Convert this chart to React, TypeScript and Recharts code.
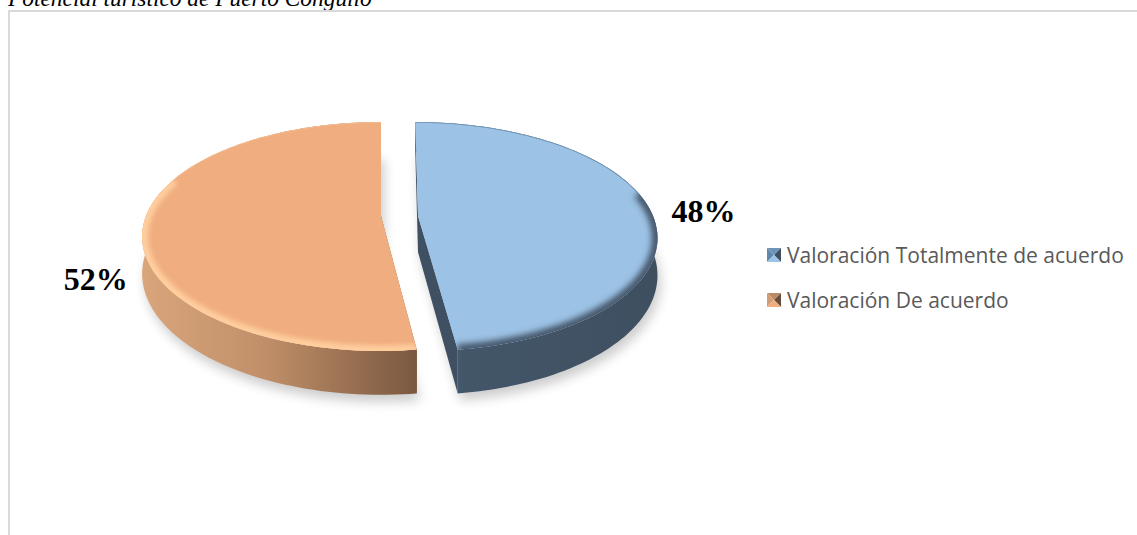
import { PieChart, Pie, Cell, Legend } from 'recharts';

const categories = ['Valoración Totalmente de acuerdo', 'Valoración De acuerdo'];
const shares = [48, 52];
const chartData = categories.map((name, i) => ({ name, value: shares[i] }));

const title = 'Potencial turístico de Puerto Congullo';

const W = 1137;
const H = 535;

// look of each slice, same order as categories
const looks = [
  { top: '#9cc2e5', cut: '#3f5062', rim: '#3f5062', edge: '#6c8cab', rimWidth: 9, rimBlur: 3, push: 18, shift: 0, rimFrom: -82.8, rimTo: 12, nudge: [8, 3] },
  { top: '#f0ad7f', cut: '#8a6247', rim: '#ffcf9f', edge: '#f6bd92', rimWidth: 10, rimBlur: 2.5, push: 0, shift: -19, rimFrom: -82.8, rimTo: -200, nudge: [0, 55] },
];

// perspective of the tilted disc
const TILT = 0.4715;
const PERSP = 0.179;
const DEPTH = 36;

const project = (cx: number, cy: number, r: number, deg: number, look: any, f = 1) => {
  const u = Math.cos((deg * Math.PI) / 180) * f;
  const v = Math.sin((deg * Math.PI) / 180) * f;
  const w = 1 + PERSP * v;
  return {
    x: cx + look.shift + (r * u + look.push) / w,
    y: cy - (r * TILT * v) / w,
    d: DEPTH / w,
  };
};

const arcPoints = (cx: number, cy: number, r: number, a: number, b: number, look: any) => {
  const n = Math.max(2, Math.ceil(Math.abs(b - a) / 1.5));
  const pts = [];
  for (let i = 0; i <= n; i++) pts.push(project(cx, cy, r, a + ((b - a) * i) / n, look));
  return pts;
};

const toPath = (pts: { x: number; y: number }[], close = true) =>
  pts.map((p, i) => `${i ? 'L' : 'M'}${p.x.toFixed(1)},${p.y.toFixed(1)}`).join(' ') + (close ? ' Z' : '');

const drop = (p: any) => ({ x: p.x, y: p.y + p.d, d: p.d });

const TiltedSlice = (props: any) => {
  const { cx, cy, outerRadius, startAngle, endAngle, name, payload } = props;
  const idx = categories.indexOf(name ?? payload?.name);
  const look = looks[idx];
  const arc = arcPoints(cx, cy, outerRadius, startAngle, endAngle, look);
  const apex = project(cx, cy, 0, 0, look);
  const top = toPath([apex, ...arc]);
  const wall = toPath([...arc, ...arc.map(drop).reverse()]);
  const cutA = toPath([apex, arc[0], drop(arc[0]), drop(apex)]);
  const cutB = toPath([apex, arc[arc.length - 1], drop(arc[arc.length - 1]), drop(apex)]);
  const outline = toPath([drop(apex), ...arc.map(drop)]);
  const rimArc = arcPoints(cx, cy, outerRadius - 1, look.rimFrom, look.rimTo, look);
  return (
    <g>
      <path d={outline} fill="#000" opacity={0.2} filter="url(#softShadow)" transform="translate(3,7)" />
      <path d={cutA} fill={look.cut} />
      <path d={cutB} fill={look.cut} />
      <path d={wall} fill={`url(#wall${idx})`} />
      <path d={top} fill={look.top} />
      <clipPath id={`topClip${idx}`}>
        <path d={top} />
      </clipPath>
      <g clipPath={`url(#topClip${idx})`}>
        <path d={toPath(arc, false)} fill="none" stroke={look.edge} strokeWidth={1.5} />
        <path
          d={toPath(rimArc, false)}
          fill="none"
          stroke={look.rim}
          strokeWidth={look.rimWidth}
          filter={`url(#rimBlur${idx})`}
        />
      </g>
    </g>
  );
};

const SliceLabel = (props: any) => {
  const { cx, cy, outerRadius, midAngle, name, value } = props;
  const idx = categories.indexOf(name);
  const look = looks[idx];
  const p = project(cx, cy, outerRadius, midAngle, look, 1.2);
  return (
    <text
      x={p.x + look.nudge[0]}
      y={p.y + look.nudge[1]}
      textAnchor="middle"
      dominantBaseline="central"
      fontFamily="'Liberation Serif', serif"
      fontWeight="bold"
      fontSize={32}
      fill="#000"
    >
      {value}%
    </text>
  );
};

const iconColors = [
  ['#6d95ba', '#5f88ae', '#3f5062', '#9cc2e5'],
  ['#b98a66', '#d49c72', '#6b4c36', '#f0ad7f'],
];

const BevelIcon = ({ idx }: { idx: number }) => {
  const [up, left, right, down] = iconColors[idx];
  return (
    <svg width={14} height={14} style={{ marginRight: 6, flex: 'none' }}>
      <polygon points="0,0 14,0 7,7" fill={up} />
      <polygon points="0,0 0,14 7,7" fill={left} />
      <polygon points="14,0 14,14 7,7" fill={right} />
      <polygon points="0,14 14,14 7,7" fill={down} />
    </svg>
  );
};

const LegendList = () => (
  <div style={{ fontFamily: "'Open Sans', sans-serif", fontSize: 21, color: '#595959' }}>
    {categories.map((c, i) => (
      <div key={c} style={{ display: 'flex', alignItems: 'center', height: 45, whiteSpace: 'nowrap' }}>
        <BevelIcon idx={i} />
        {c}
      </div>
    ))}
  </div>
);

export default function App() {
  return (
    <div style={{ position: 'absolute', left: 0, top: 0, width: W, height: H, overflow: 'hidden', background: '#fff' }}>
      <div
        style={{
          position: 'absolute',
          left: 8,
          top: -14,
          fontFamily: "'Liberation Serif', serif",
          fontStyle: 'italic',
          fontSize: 23.4,
          lineHeight: '24px',
          color: '#000',
          whiteSpace: 'nowrap',
        }}
      >
        {title}
      </div>
      <div
        style={{
          position: 'absolute',
          left: 8,
          top: 10,
          width: W,
          height: H,
          borderTop: '2px solid #d9d9d9',
          borderLeft: '2px solid #d9d9d9',
        }}
      />
      <div style={{ position: 'absolute', left: 0, top: 0 }}>
        <PieChart width={W} height={H} margin={{ top: 0, right: 0, bottom: 0, left: 0 }}>
          <defs>
            <filter id="softShadow" x="-20%" y="-20%" width="140%" height="140%">
              <feGaussianBlur stdDeviation="6" />
            </filter>
            {looks.map((l, i) => (
              <filter key={i} id={`rimBlur${i}`} filterUnits="userSpaceOnUse" x="0" y="0" width={W} height={H}>
                <feGaussianBlur stdDeviation={l.rimBlur} />
              </filter>
            ))}
            <linearGradient id="wall0" x1="0" y1="0" x2="1" y2="0">
              <stop offset="0%" stopColor="#516c87" />
              <stop offset="20%" stopColor="#435669" />
              <stop offset="100%" stopColor="#3e4f60" />
            </linearGradient>
            <linearGradient id="wall1" x1="0" y1="0" x2="1" y2="0">
              <stop offset="0%" stopColor="#d9a57b" />
              <stop offset="45%" stopColor="#c08f69" />
              <stop offset="100%" stopColor="#7a5840" />
            </linearGradient>
          </defs>
          <Pie
            data={chartData}
            dataKey="value"
            nameKey="name"
            cx={400}
            cy={216}
            outerRadius={235}
            startAngle={90}
            endAngle={-270}
            stroke="none"
            isAnimationActive={false}
            shape={TiltedSlice}
            label={SliceLabel}
            labelLine={false}
          >
            {chartData.map((d, i) => (
              <Cell key={d.name} fill={looks[i].top} />
            ))}
          </Pie>
          <Legend
            content={<LegendList />}
            wrapperStyle={{ left: 767, top: 232, width: 370, bottom: 'auto', right: 'auto' }}
          />
        </PieChart>
      </div>
    </div>
  );
}
